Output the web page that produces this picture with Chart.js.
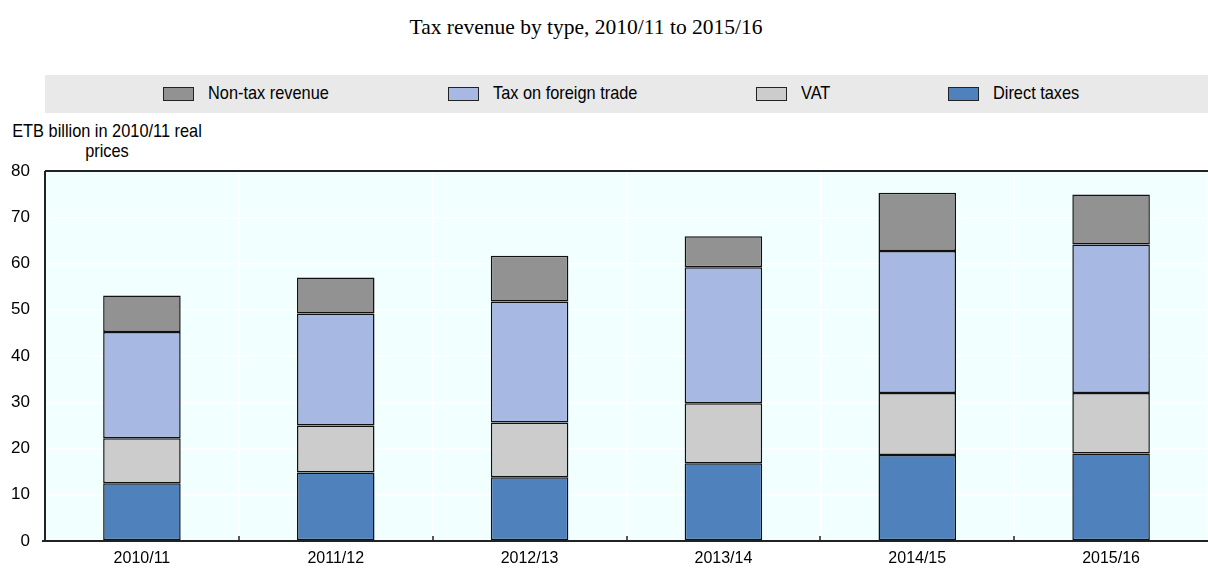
<!DOCTYPE html>
<html>
<head>
<meta charset="utf-8">
<script src="https://cdn.jsdelivr.net/npm/chart.js@4"></script>
<style>
    body { margin: 0; background: #fff; }
    #wrap { position: relative; width: 1208px; height: 568px; overflow: hidden; }
    #title {
        position: absolute; left: 0; top: 15px; width: 1172px; text-align: center;
        font-family: 'Liberation Serif', 'Times New Roman', serif; font-size: 21.5px; color: #000;
    }
    #legend {
        position: absolute; left: 45px; top: 75px; width: 1163px; height: 38px; background: #e9e9e9;
    }
    .item { position: absolute; top: 0; height: 38px; }
    .box { position: absolute; top: 12px; width: 29px; height: 12px; border: 1px solid #222; }
    .lbl {
        position: absolute; top: 7px; white-space: nowrap; color: #000;
        font-family: 'Liberation Sans', Arial, sans-serif; font-size: 19px;
        transform: scaleX(0.86); transform-origin: left center;
    }
    #ytitle {
        position: absolute; left: -43px; top: 121px; width: 300px; text-align: center; line-height: 20px;
        white-space: nowrap; font-family: 'Liberation Sans', Arial, sans-serif; font-size: 19px; color: #000;
        transform: scaleX(0.86); transform-origin: center;
    }
    canvas { position: absolute; left: 0; top: 0; }
</style>
</head>
<body>
<div id="wrap">
    <div id="title">Tax revenue by type, 2010/11 to 2015/16</div>
    <div id="legend"></div>
    <div id="ytitle">ETB billion in 2010/11 real<br>prices</div>
    <canvas id="chart" width="1208" height="568"></canvas>
</div>
<script>
// ===== DATA =====
const years = ['2010/11', '2011/12', '2012/13', '2013/14', '2014/15', '2015/16'];
const directTaxes = [12.5, 14.8, 13.8, 16.8, 18.6, 18.9];
const vat = [9.7, 10.2, 11.8, 13.0, 13.4, 13.1];
const foreignTrade = [23.0, 24.2, 26.2, 29.4, 30.7, 32.1];
const nonTax = [7.9, 7.8, 9.9, 6.7, 12.6, 10.8];
const yTicks = [0, 10, 20, 30, 40, 50, 60, 70, 80];

const series = [
    { label: 'Direct taxes', data: directTaxes, color: '#4f81bd' },
    { label: 'VAT', data: vat, color: '#cccccc' },
    { label: 'Tax on foreign trade', data: foreignTrade, color: '#a7b9e3' },
    { label: 'Non-tax revenue', data: nonTax, color: '#929292' }
];

const FONT = "'Liberation Sans', Arial, sans-serif";

// ===== LEGEND (top item first) =====
const legendX = [118, 403, 711, 903];
const legendEl = document.getElementById('legend');
series.slice().reverse().forEach(function(s, i) {
    const item = document.createElement('div');
    item.className = 'item';
    item.style.left = legendX[i] + 'px';
    item.innerHTML = '<div class="box" style="left:0;background:' + s.color + '"></div>' +
        '<div class="lbl" style="left:45px">' + s.label + '</div>';
    legendEl.appendChild(item);
});

// ===== PLOT DECORATION =====
const plotDecor = {
    id: 'plotDecor',
    beforeDraw(chart) {
        const a = chart.chartArea, ctx = chart.ctx;
        ctx.save();
        ctx.fillStyle = '#f2ffff';
        ctx.fillRect(a.left, a.top, a.right - a.left, a.bottom - a.top);
        ctx.restore();
    },
    afterDraw(chart) {
        const a = chart.chartArea, ctx = chart.ctx, x = chart.scales.x;
        ctx.save();
        ctx.strokeStyle = '#222';
        ctx.lineWidth = 2;
        ctx.beginPath();
        ctx.moveTo(a.left, a.top); ctx.lineTo(a.right, a.top);
        ctx.moveTo(a.left - 3, a.bottom); ctx.lineTo(a.right, a.bottom);
        ctx.moveTo(a.left, a.top); ctx.lineTo(a.left, a.bottom);
        ctx.stroke();
        // small upward ticks between categories
        const step = x.getPixelForValue(1) - x.getPixelForValue(0);
        ctx.lineWidth = 1.5;
        ctx.beginPath();
        for (let i = 1; i < years.length; i++) {
            const px = Math.round(x.getPixelForValue(i) - step / 2);
            ctx.moveTo(px, a.bottom); ctx.lineTo(px, a.bottom - 5);
        }
        ctx.stroke();
        ctx.restore();
    }
};

new Chart(document.getElementById('chart'), {
    type: 'bar',
    data: {
        labels: years,
        datasets: series.map(function(s) {
            return {
                label: s.label,
                data: s.data,
                backgroundColor: s.color,
                borderColor: '#111111',
                borderWidth: 1.5,
                borderSkipped: false,
                categoryPercentage: 0.4,
                barPercentage: 1.0
            };
        })
    },
    options: {
        responsive: false,
        animation: false,
        layout: { padding: { top: 171, right: 0, left: 0, bottom: 0 } },
        plugins: { legend: { display: false }, title: { display: false }, tooltip: { enabled: false } },
        scales: {
            x: {
                stacked: true,
                grid: { color: '#ffffff', lineWidth: 1.5, drawTicks: false, offset: true },
                border: { display: false },
                ticks: { color: '#000', font: { family: FONT, size: 16 }, padding: 8, maxRotation: 0 },
                afterFit: function(scale) { scale.height = 27; }
            },
            y: {
                stacked: true,
                min: 0,
                max: 80,
                afterBuildTicks: function(scale) { scale.ticks = yTicks.map(function(v) { return { value: v }; }); },
                grid: { color: '#ffffff', lineWidth: 1.5, drawTicks: false },
                border: { display: false },
                ticks: { color: '#000', font: { family: FONT, size: 17 }, padding: 15 },
                afterFit: function(scale) { scale.width = 45; }
            }
        }
    },
    plugins: [plotDecor]
});
</script>
</body>
</html>
